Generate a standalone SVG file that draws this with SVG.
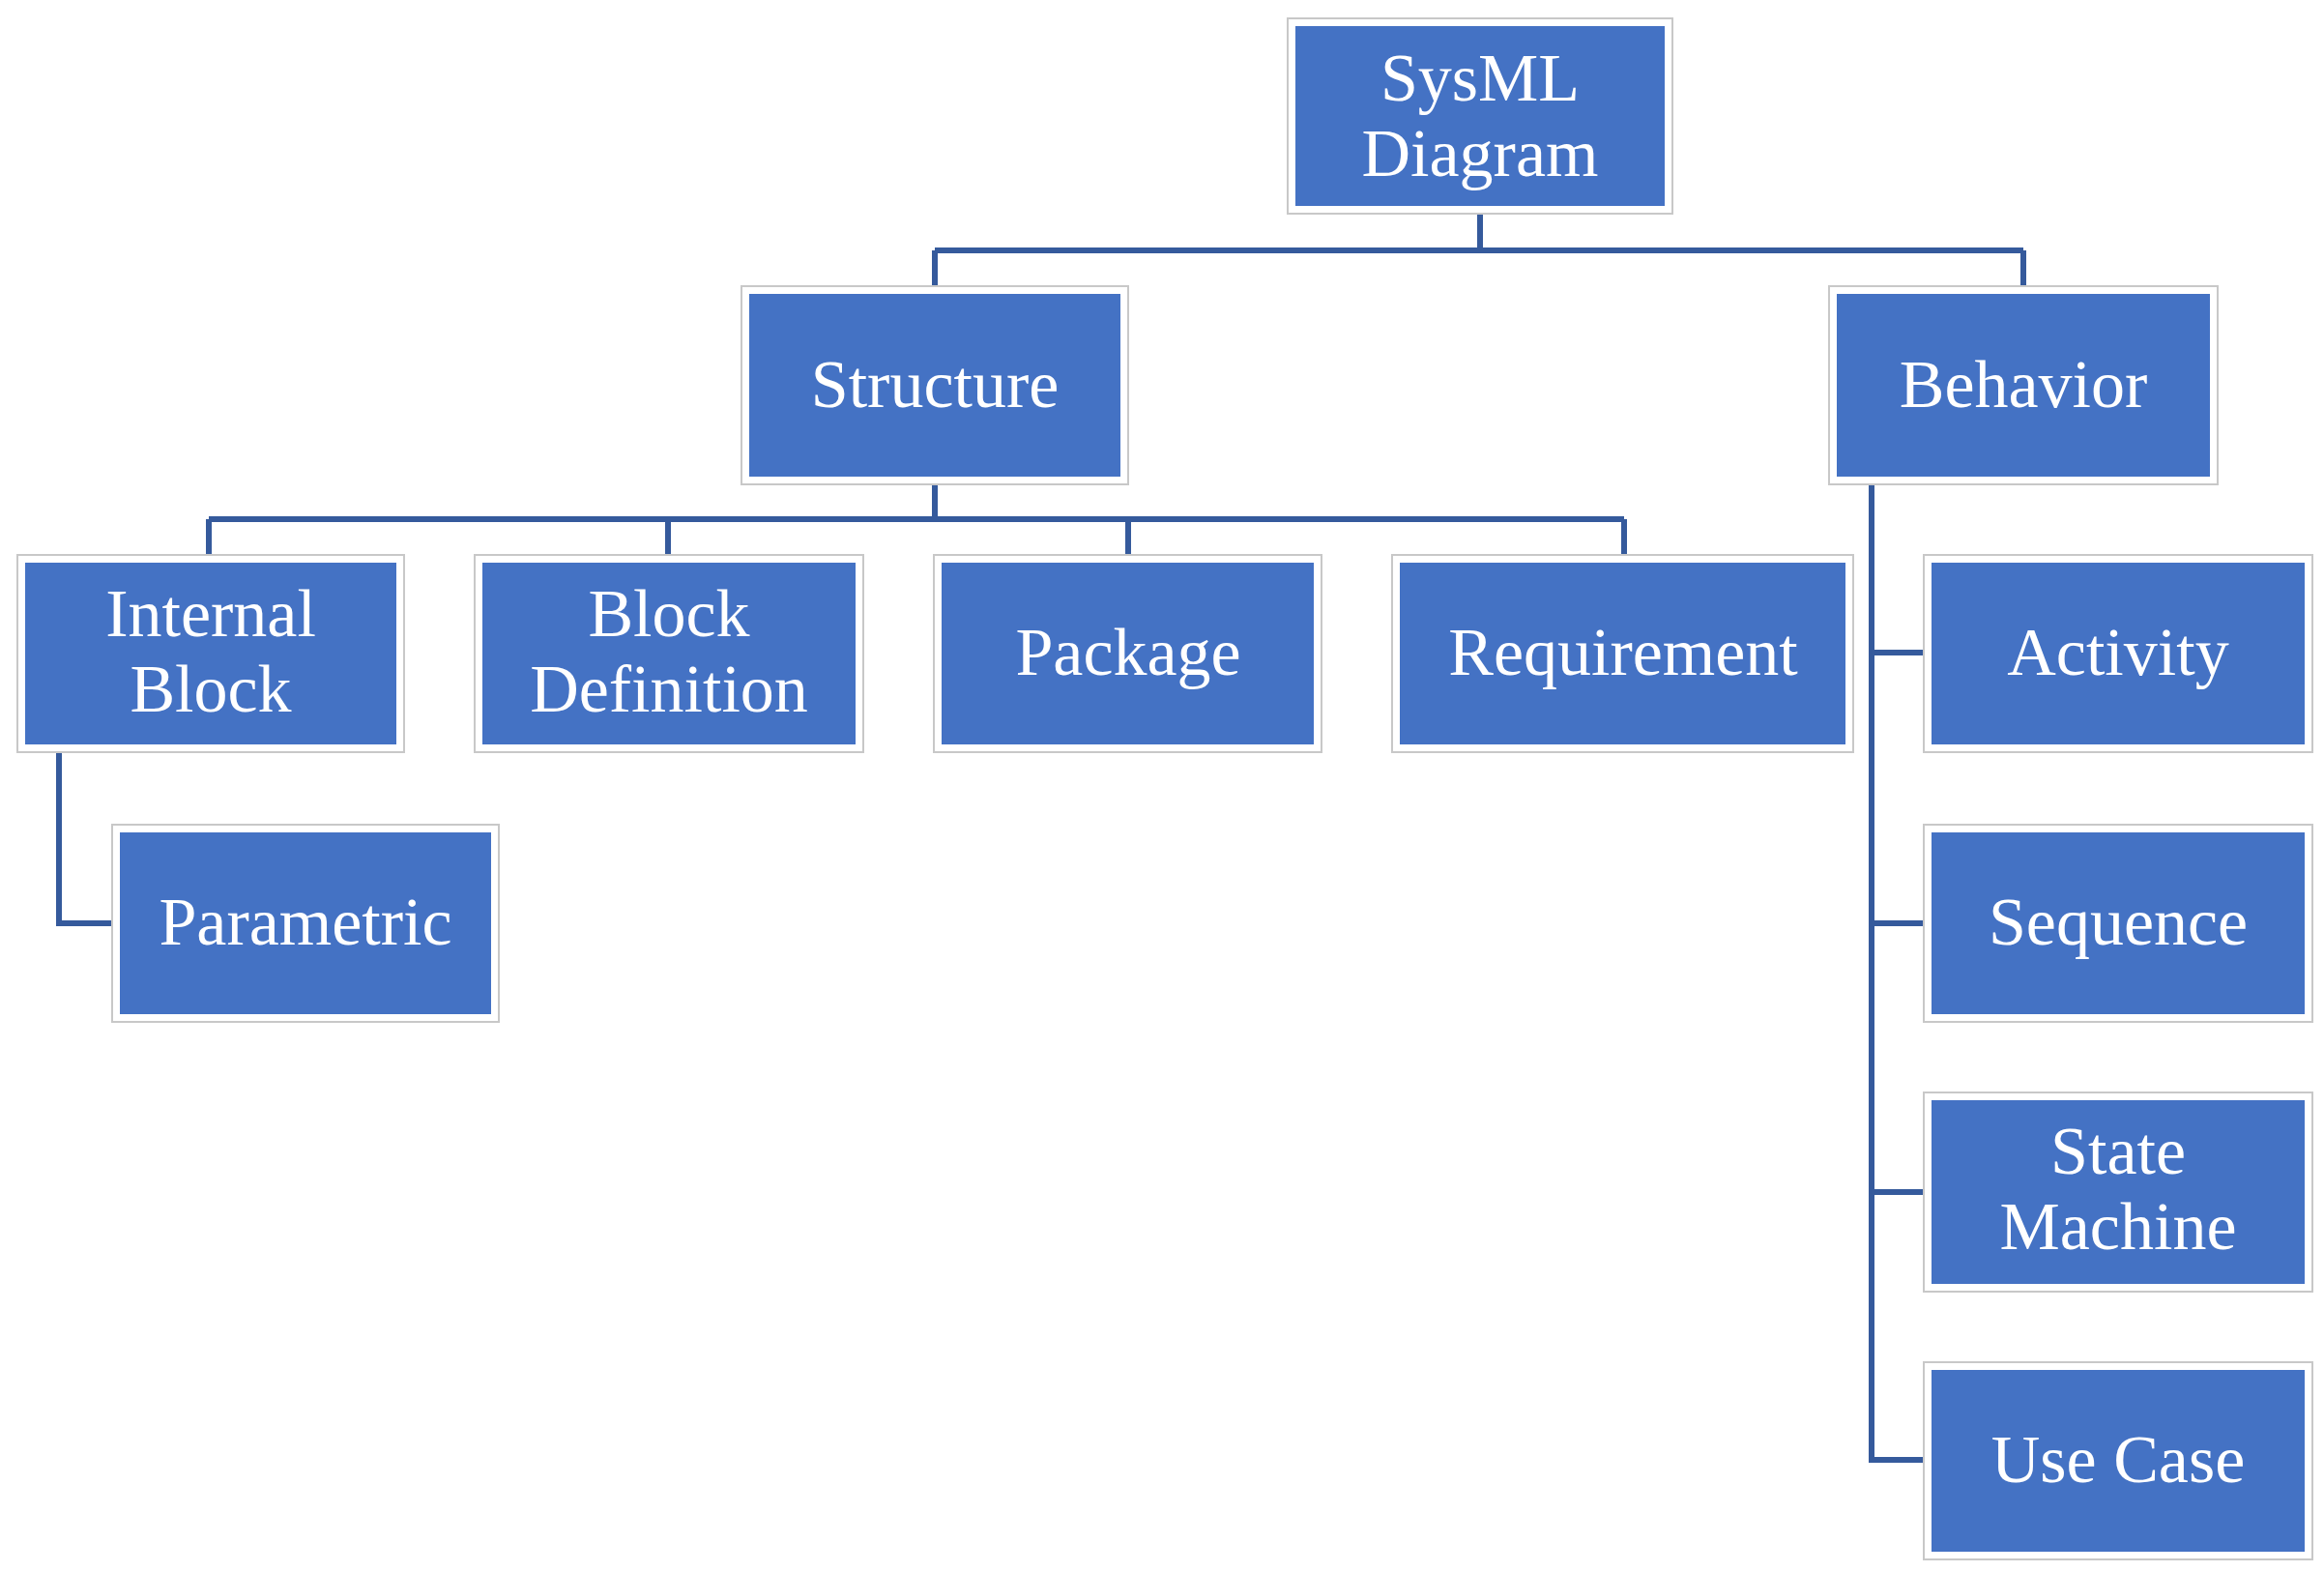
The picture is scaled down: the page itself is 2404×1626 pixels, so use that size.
<svg xmlns="http://www.w3.org/2000/svg" width="2404" height="1626" viewBox="0 0 2404 1626">
<style>
.b{fill:#4472C4;stroke:#fff;stroke-width:2}
.o{fill:#fff;stroke:#c8c8c8;stroke-width:2}
.t{font-family:"Liberation Serif","Times New Roman",serif;font-size:70px;fill:#fff;text-anchor:middle}
.c{fill:none;stroke:#355A9C;stroke-width:6}
</style>
<rect width="2404" height="1626" fill="#fff"/>
<g id="connectors">
<path class="c" d="M1531 214V259M967 259H2093M967 259V303M2093 259V303"/>
<path class="c" d="M967 494V537M216 537H1680M216 537V581M691 537V581M1167 537V581M1680 537V581"/>
<path class="c" d="M61 771V955H123"/>
<path class="c" d="M1936 494V1510H1997M1936 675H1997M1936 955H1997M1936 1233H1997"/>
</g>
<g id="sysml"><rect class="o" x="1332" y="19" width="398" height="202"/><rect class="b" x="1339" y="26" width="384" height="188"/><text class="t" x="1531" y="104">SysML</text><text class="t" x="1531" y="182">Diagram</text></g>
<g id="structure"><rect class="o" x="767" y="296" width="400" height="205"/><rect class="b" x="774" y="303" width="386" height="191"/><text class="t" x="967" y="421">Structure</text></g>
<g id="behavior"><rect class="o" x="1892" y="296" width="402" height="205"/><rect class="b" x="1899" y="303" width="388" height="191"/><text class="t" x="2093" y="421">Behavior</text></g>
<g id="internal"><rect class="o" x="18" y="574" width="400" height="204"/><rect class="b" x="25" y="581" width="386" height="190"/><text class="t" x="218" y="658">Internal</text><text class="t" x="218" y="736">Block</text></g>
<g id="blockdef"><rect class="o" x="491" y="574" width="402" height="204"/><rect class="b" x="498" y="581" width="388" height="190"/><text class="t" x="692" y="658">Block</text><text class="t" x="692" y="736">Definition</text></g>
<g id="package"><rect class="o" x="966" y="574" width="401" height="204"/><rect class="b" x="973" y="581" width="387" height="190"/><text class="t" x="1167" y="698">Package</text></g>
<g id="requirement"><rect class="o" x="1440" y="574" width="477" height="204"/><rect class="b" x="1447" y="581" width="463" height="190"/><text class="t" x="1679" y="698">Requirement</text></g>
<g id="activity"><rect class="o" x="1990" y="574" width="402" height="204"/><rect class="b" x="1997" y="581" width="388" height="190"/><text class="t" x="2191" y="698">Activity</text></g>
<g id="parametric"><rect class="o" x="116" y="853" width="400" height="204"/><rect class="b" x="123" y="860" width="386" height="190"/><text class="t" x="316" y="977">Parametric</text></g>
<g id="sequence"><rect class="o" x="1990" y="853" width="402" height="204"/><rect class="b" x="1997" y="860" width="388" height="190"/><text class="t" x="2191" y="977">Sequence</text></g>
<g id="statemachine"><rect class="o" x="1990" y="1130" width="402" height="206"/><rect class="b" x="1997" y="1137" width="388" height="192"/><text class="t" x="2191" y="1214">State</text><text class="t" x="2191" y="1292">Machine</text></g>
<g id="usecase"><rect class="o" x="1990" y="1409" width="402" height="204"/><rect class="b" x="1997" y="1416" width="388" height="190"/><text class="t" x="2191" y="1533">Use Case</text></g>
</svg>
